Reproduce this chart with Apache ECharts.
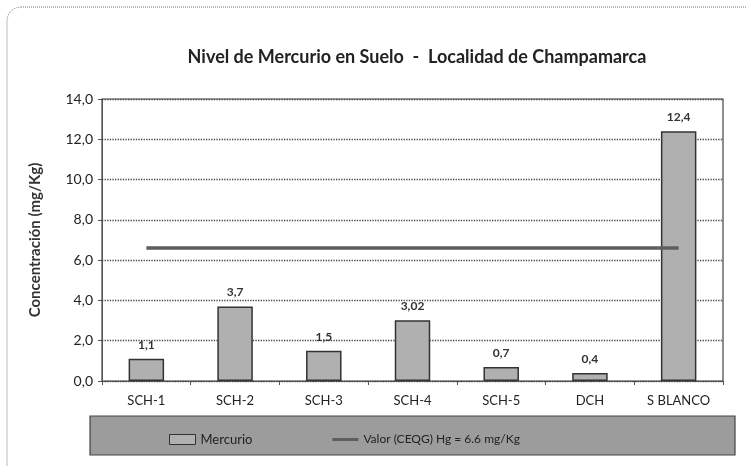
<!DOCTYPE html>
<html>
<head>
<meta charset="utf-8">
<script src="https://cdn.jsdelivr.net/npm/echarts@6/dist/echarts.min.js"></script>
<style>
  html, body { margin: 0; padding: 0; background: #fff; }
  #chart { width: 747px; height: 466px; }
</style>
</head>
<body>
<div id="chart"></div>
<script>
const categories = ['SCH-1', 'SCH-2', 'SCH-3', 'SCH-4', 'SCH-5', 'DCH', 'S BLANCO'];
const mercurio = [1.1, 3.7, 1.5, 3.02, 0.7, 0.4, 12.4];
const limite = [6.6, 6.6, 6.6, 6.6, 6.6, 6.6, 6.6];
const labelText = ['1,1', '3,7', '1,5', '3,02', '0,7', '0,4', '12,4'];

const font = 'Lato, "Open Sans", sans-serif';

const chart = echarts.init(document.getElementById('chart'));
chart.setOption({
  animation: false,
  textStyle: { fontFamily: font },
  title: {
    text: 'Nivel de Mercurio en Suelo  -  Localidad de Champamarca',
    left: 412,
    top: 43,
    textAlign: 'center',
    textStyle: { fontSize: 18, fontWeight: 'bold', color: '#222', fontFamily: font }
  },
  graphic: [
    {
      type: 'rect',
      shape: { x: 7, y: 7, width: 760, height: 480, r: 14 },
      style: { fill: 'none', stroke: '#777', lineWidth: 1, lineDash: [1, 1] },
      z: -10
    },
    {
      type: 'rect',
      shape: { x: 90, y: 416, width: 645, height: 39 },
      style: { fill: '#9c9c9c', stroke: '#444', lineWidth: 1.2 },
      z: -5
    }
  ],
  legend: {
    left: 164,
    top: 428,
    itemGap: 80,
    itemWidth: 26,
    itemHeight: 10,
    textStyle: { fontSize: 13, color: '#222', fontFamily: font },
    data: [
      { name: 'Mercurio', icon: 'rect', itemStyle: { color: '#b0b0b0', borderColor: '#333', borderWidth: 1 } },
      {
        name: 'Valor (CEQG) Hg = 6.6 mg/Kg',
        icon: 'path://M0,4 L26,4 L26,7 L0,7 Z',
        itemStyle: { color: '#5e5e5e' },
        textStyle: { fontSize: 12 }
      }
    ]
  },
  grid: { left: 102, right: 24, top: 99, bottom: 85 },
  xAxis: {
    type: 'category',
    data: categories,
    axisLine: { lineStyle: { color: '#555', type: 'dotted' } },
    axisTick: { show: true, length: 4, lineStyle: { color: '#555' } },
    axisLabel: { fontSize: 13, color: '#222', margin: 13, fontFamily: font }
  },
  yAxis: {
    type: 'value',
    min: 0,
    max: 14,
    interval: 2,
    name: 'Concentración (mg/Kg)',
    nameLocation: 'middle',
    nameGap: 59,
    nameTextStyle: { fontSize: 15, fontWeight: 'bold', color: '#333', fontFamily: font },
    axisLine: { show: true, lineStyle: { color: '#555', type: 'dotted' } },
    axisTick: { show: true, length: 4, lineStyle: { color: '#555' } },
    axisLabel: {
      fontSize: 14,
      color: '#222',
      margin: 9,
      fontFamily: font,
      formatter: v => v.toFixed(1).replace('.', ',')
    },
    splitLine: { lineStyle: { color: '#444', type: 'dotted', width: 1.3 } }
  },
  series: [
    {
      name: 'Mercurio',
      type: 'bar',
      data: mercurio,
      barWidth: '40%',
      itemStyle: { color: '#b0b0b0', borderColor: '#333', borderWidth: 1.5 },
      label: {
        show: true,
        position: 'top',
        distance: 8,
        fontSize: 12,
        fontWeight: 'bold',
        color: '#333',
        fontFamily: font,
        formatter: p => labelText[p.dataIndex]
      }
    },
    {
      name: 'Valor (CEQG) Hg = 6.6 mg/Kg',
      type: 'line',
      data: limite,
      symbol: 'none',
      itemStyle: { color: '#5e5e5e' },
      lineStyle: { color: '#5e5e5e', width: 3.5 },
      z: 5
    },
    {
      type: 'line',
      data: [],
      markArea: {
        silent: true,
        itemStyle: { color: 'none', borderColor: '#444', borderWidth: 1.2 },
        data: [[{ xAxis: 'min', yAxis: 0 }, { xAxis: 'max', yAxis: 14 }]]
      }
    }
  ]
});
</script>
</body>
</html>
